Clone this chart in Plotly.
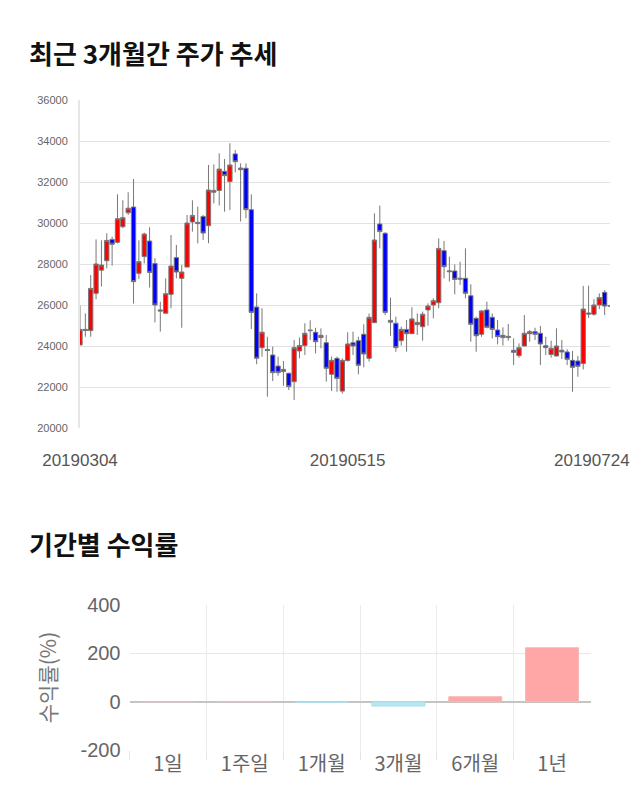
import pandas as pd
import plotly.graph_objects as go

# ---------------- data ----------------
holidays = ["20190501", "20190506", "20190606"]
dates = [d.strftime("%Y%m%d") for d in pd.bdate_range("2019-03-04", "2019-07-24")
         if d.strftime("%Y%m%d") not in holidays]

opens = [24050, 24810, 24750, 26570, 27700, 28160, 29200, 29060, 29820, 30500,
         30780, 27545, 28360, 29120, 28020, 25760, 25600, 26520, 28310, 27300,
         27850, 30050, 30030, 30320, 29870, 31500, 31590, 32520, 32020, 33370,
         32600, 32670, 30650, 25900, 23920, 23830, 23560, 23020, 22750, 22670,
         22260, 23760, 24020, 24780, 24670, 24410, 24160, 22620, 23400, 21800,
         23290, 24160, 24260, 24570, 23400, 25140, 29950, 29500, 25250, 25110,
         24260, 24810, 24600, 25040, 24940, 25760, 26000, 26110, 28650, 27620,
         27660, 27255, 27300, 26450, 25350, 24570, 25760, 25400, 24780, 24520,
         24410, 23790, 23530, 24000, 24600, 24700, 24620, 24010, 23590, 23510,
         23790, 23710, 23300, 23270, 23150, 25610, 25550, 26000, 26620, 25960]
highs = [25970, 25590, 27460, 29200, 29150, 29500, 29330, 31400, 31110, 31500,
         32150, 29155, 29530, 29790, 28280, 26160, 27300, 29415, 28930, 27950,
         30390, 31110, 30800, 30390, 32830, 32860, 33400, 33120, 33890, 33560,
         32910, 32910, 31400, 26570, 25840, 24450, 23970, 23480, 23270, 22700,
         24290, 24410, 25110, 25250, 24890, 24860, 24540, 23480, 23480, 23400,
         24670, 24700, 24450, 25060, 25590, 30470, 30850, 29550, 26360, 25430,
         24940, 25270, 25890, 25590, 25680, 26080, 26330, 29250, 29120, 28360,
         27980, 28110, 28760, 27010, 25430, 25760, 26160, 25590, 25270, 24910,
         25070, 24370, 24130, 25510, 24780, 24890, 24980, 24450, 24260, 24860,
         24290, 23840, 23760, 23510, 26930, 26940, 26280, 26570, 26730, 25970]
lows = [24050, 24450, 24450, 26280, 26900, 27790, 27920, 29000, 29740, 30390,
        26070, 27270, 28030, 26850, 25150, 24700, 25590, 25840, 27300, 24890,
        27850, 29580, 29010, 29170, 29010, 30960, 30850, 30550, 30630, 32470,
        30070, 30230, 24830, 23110, 23480, 21530, 22290, 22550, 22060, 21850,
        21370, 23400, 23560, 24290, 23640, 23890, 22260, 21800, 21770, 21680,
        23240, 23560, 22620, 22960, 23240, 25140, 28760, 25510, 24500, 23720,
        24020, 23720, 24600, 24540, 24260, 24990, 25350, 25840, 27300, 27140,
        26520, 26980, 26330, 24210, 23720, 24450, 24860, 24370, 24080, 24020,
        24260, 23070, 23430, 23980, 24210, 24290, 23070, 23560, 23430, 23500,
        23370, 23070, 21770, 22500, 22860, 25370, 25480, 25800, 25510, 25940]
closes = [24810, 24760, 26810, 28000, 27950, 29150, 28960, 30210, 30260, 30720,
          27140, 28115, 29460, 27590, 26000, 25710, 26550, 27900, 27610, 27610,
          30000, 30370, 29970, 29510, 31610, 31590, 32630, 32310, 32830, 32990,
          32680, 30650, 25640, 23400, 24670, 23780, 22700, 22700, 22860, 22020,
          23920, 24020, 24620, 24750, 24210, 24520, 22910, 23300, 22420, 23300,
          24100, 24000, 23060, 23610, 25400, 29170, 29580, 25640, 25160, 23920,
          24810, 24600, 25320, 25150, 25550, 25950, 26210, 28760, 27870, 27660,
          27250, 27300, 26570, 25060, 24500, 25710, 24910, 24810, 24455, 24410,
          24470, 23690, 23920, 24620, 24700, 24570, 24100, 23920, 23890, 24000,
          23710, 23350, 22960, 23010, 25800, 25560, 26000, 26360, 25950, 25950]

price_ticks = [20000, 22000, 24000, 26000, 28000, 30000, 32000, 34000, 36000]
date_ticks = ["20190304", "20190515"]
last_date_label = "20190724"

periods = ["1일", "1주일", "1개월", "3개월", "6개월", "1년"]
returns = [0.0, 1.0, -3.0, -18.0, 20.5, 223.0]
return_ticks = [-200, 0, 200, 400]

# ---------------- figure ----------------
fig = go.Figure()

fig.add_trace(go.Candlestick(
    x=dates, open=opens, high=highs, low=lows, close=closes,
    increasing=dict(fillcolor="#ff0000", line=dict(color="#777777", width=1)),
    decreasing=dict(fillcolor="#0000ff", line=dict(color="#777777", width=1)),
    whiskerwidth=0, xaxis="x", yaxis="y", showlegend=False, hoverinfo="skip",
))

bar_colors = ["#ffa6a6" if v >= 0 else "#b4e9f2" for v in returns]
bar_lines = ["#f4b9b9" if v >= 0 else "#a9dde8" for v in returns]
fig.add_trace(go.Bar(
    x=periods, y=returns, marker=dict(color=bar_colors, line=dict(color=bar_lines, width=1)),
    xaxis="x2", yaxis="y2", showlegend=False, hoverinfo="skip",
))

num_font = "Liberation Sans, Arial, Noto Sans CJK KR, sans-serif"
kr_font = "Noto Sans CJK KR, Liberation Sans, sans-serif"

fig.update_layout(
    width=640, height=810,
    margin=dict(l=0, r=0, t=0, b=0, autoexpand=False),
    paper_bgcolor="white", plot_bgcolor="white",
    boxgap=0.2, boxgroupgap=0,
    bargap=0.31,
    xaxis=dict(
        domain=[80 / 640, 610 / 640], anchor="y", type="category", automargin=False,
        range=[0, len(dates) - 1], rangeslider=dict(visible=False),
        showgrid=False, zeroline=False, showline=False, ticks="",
        tickmode="array", tickvals=date_ticks, ticktext=date_ticks,
        tickfont=dict(family=num_font, size=17, color="#555555"),
        ticklabelstandoff=20,
    ),
    yaxis=dict(
        domain=[1 - 428 / 810, 1 - 100 / 810], anchor="x", automargin=False,
        range=[20000, 36000], tickmode="array", tickvals=price_ticks,
        ticktext=[str(v) for v in price_ticks],
        showgrid=True, gridcolor="#e2e2e2", gridwidth=1, zeroline=False,
        showline=True, linecolor="#e6e6e6", linewidth=2, ticks="",
        tickfont=dict(family=num_font, size=11, color="#666666"),
        ticklabelstandoff=8,
    ),
    xaxis2=dict(
        domain=[129.5 / 640, 590.5 / 640], anchor="y2", type="category", automargin=False,
        showgrid=True, gridcolor="#ebebeb", tickson="boundaries",
        ticks="outside", ticklen=9, tickcolor="#e4e4e4",
        showline=False, zeroline=False,
        tickfont=dict(family=kr_font, size=20, color="#666666"),
    ),
    yaxis2=dict(
        domain=[1 - 750 / 810, 1 - 605 / 810], anchor="x2", automargin=False,
        range=[-200, 400], tickmode="array", tickvals=return_ticks,
        ticktext=[str(v) for v in return_ticks],
        showgrid=True, gridcolor="#e8e8e8", zeroline=True,
        zerolinecolor="#c4c4c4", zerolinewidth=1.5, showline=False, ticks="",
        tickfont=dict(family=num_font, size=20, color="#666666"),
        ticklabelstandoff=8,
        title=dict(text="수익률(%)", font=dict(family=kr_font, size=21, color="#777777"),
                   standoff=18),
    ),
    annotations=[
        dict(text="<b>최근 3개월간 주가 추세</b>", xref="paper", yref="paper",
             x=27 / 640, y=1 - 52 / 810, xanchor="left", yanchor="middle",
             showarrow=False, font=dict(family=kr_font, size=26, color="#111111")),
        dict(text="<b>기간별 수익률</b>", xref="paper", yref="paper",
             x=27 / 640, y=1 - 543 / 810, xanchor="left", yanchor="middle",
             showarrow=False, font=dict(family=kr_font, size=26, color="#111111")),
        dict(text=last_date_label, xref="paper", yref="paper",
             x=632 / 640, y=1 - 460 / 810, xanchor="right", yanchor="middle",
             showarrow=False,
             font=dict(family=num_font, size=17, color="#555555")),
    ],
)

fig.write_html("out.html")
